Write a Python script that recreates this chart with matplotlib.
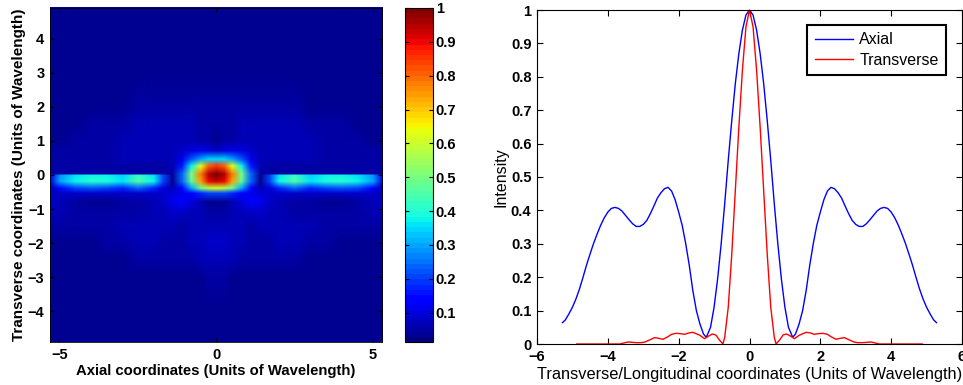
import numpy as np
import matplotlib
matplotlib.use("Agg")
import matplotlib.pyplot as plt
from matplotlib.image import NonUniformImage

plt.rcParams['font.family'] = ['Liberation Sans', 'DejaVu Sans']

# ---------------- heatmap data ----------------
hm_x = [-5.3, -5.0, -4.5, -4.0, -3.5, -3.0, -2.5, -2.0, -1.7, -1.4, -1.1, -0.8, -0.5, -0.25, 0.0,
        0.25, 0.5, 0.8, 1.1, 1.4, 1.7, 2.0, 2.5, 3.0, 3.5, 4.0, 4.5, 5.0, 5.3]
hm_y = [4.9, 3.0, 2.0, 1.5, 1.0, 0.7, 0.45, 0.25, 0.02, -0.02, -0.2, -0.4, -0.55, -0.8,
        -1.1, -1.5, -2.0, -2.5, -3.0, -4.0, -4.9]
hm_rows = [
    [0.03]*29,
    [0.03]*13 + [0.035, 0.035, 0.035] + [0.03]*13,
    [0.03, 0.03, 0.035, 0.035, 0.04, 0.04, 0.045, 0.045, 0.045, 0.045, 0.045, 0.045, 0.045, 0.045, 0.045,
     0.045, 0.045, 0.045, 0.045, 0.045, 0.045, 0.045, 0.045, 0.04, 0.04, 0.035, 0.035, 0.03, 0.03],
    [0.035, 0.035, 0.04, 0.045, 0.05, 0.055, 0.06, 0.06, 0.06, 0.06, 0.06, 0.06, 0.055, 0.05, 0.05,
     0.05, 0.055, 0.06, 0.06, 0.06, 0.06, 0.06, 0.06, 0.055, 0.05, 0.045, 0.04, 0.035, 0.035],
    [0.04, 0.04, 0.045, 0.05, 0.055, 0.06, 0.065, 0.065, 0.065, 0.06, 0.06, 0.06, 0.055, 0.045, 0.04,
     0.045, 0.055, 0.06, 0.06, 0.06, 0.065, 0.065, 0.065, 0.06, 0.055, 0.05, 0.045, 0.04, 0.04],
    [0.045, 0.045, 0.05, 0.05, 0.055, 0.06, 0.065, 0.07, 0.07, 0.07, 0.08, 0.1, 0.11, 0.1, 0.09,
     0.1, 0.11, 0.1, 0.08, 0.07, 0.07, 0.07, 0.065, 0.06, 0.055, 0.05, 0.05, 0.045, 0.045],
    [0.045, 0.05, 0.05, 0.055, 0.055, 0.06, 0.06, 0.065, 0.065, 0.07, 0.12, 0.22, 0.3, 0.34, 0.35,
     0.34, 0.3, 0.22, 0.12, 0.07, 0.065, 0.065, 0.06, 0.06, 0.055, 0.055, 0.05, 0.05, 0.045],
    [0.045, 0.05, 0.05, 0.05, 0.05, 0.05, 0.055, 0.055, 0.055, 0.06, 0.16, 0.38, 0.62, 0.8, 0.85,
     0.8, 0.62, 0.38, 0.16, 0.06, 0.055, 0.055, 0.055, 0.05, 0.05, 0.05, 0.05, 0.05, 0.045],
    [0.045, 0.045, 0.045, 0.045, 0.045, 0.045, 0.045, 0.045, 0.045, 0.05, 0.24, 0.5, 0.78, 0.95, 0.99,
     0.95, 0.78, 0.5, 0.24, 0.05, 0.045, 0.045, 0.045, 0.045, 0.045, 0.045, 0.045, 0.045, 0.045],
    [0.12, 0.28, 0.36, 0.38, 0.37, 0.34, 0.42, 0.36, 0.2, 0.04, 0.24, 0.5, 0.78, 0.95, 1.0,
     0.95, 0.78, 0.5, 0.24, 0.04, 0.2, 0.36, 0.42, 0.34, 0.37, 0.38, 0.36, 0.28, 0.12],
    [0.1, 0.3, 0.38, 0.41, 0.39, 0.36, 0.45, 0.38, 0.2, 0.04, 0.23, 0.47, 0.74, 0.9, 0.93,
     0.9, 0.74, 0.47, 0.23, 0.04, 0.2, 0.38, 0.45, 0.36, 0.39, 0.41, 0.38, 0.3, 0.1],
    [0.06, 0.15, 0.2, 0.22, 0.2, 0.18, 0.23, 0.18, 0.1, 0.06, 0.15, 0.3, 0.48, 0.58, 0.6,
     0.58, 0.48, 0.3, 0.15, 0.06, 0.1, 0.18, 0.23, 0.18, 0.2, 0.22, 0.2, 0.15, 0.06],
    [0.06, 0.08, 0.09, 0.09, 0.08, 0.08, 0.09, 0.08, 0.08, 0.1, 0.12, 0.13, 0.18, 0.2, 0.2,
     0.2, 0.18, 0.13, 0.12, 0.1, 0.08, 0.08, 0.09, 0.08, 0.08, 0.09, 0.09, 0.08, 0.06],
    [0.08, 0.07, 0.05, 0.04, 0.04, 0.05, 0.05, 0.07, 0.09, 0.12, 0.15, 0.1, 0.06, 0.04, 0.035,
     0.04, 0.06, 0.1, 0.15, 0.12, 0.09, 0.07, 0.05, 0.05, 0.04, 0.04, 0.05, 0.07, 0.08],
    [0.06, 0.06, 0.05, 0.045, 0.045, 0.05, 0.055, 0.06, 0.07, 0.08, 0.08, 0.07, 0.06, 0.055, 0.05,
     0.055, 0.06, 0.07, 0.08, 0.08, 0.07, 0.06, 0.055, 0.05, 0.045, 0.045, 0.05, 0.06, 0.06],
    [0.05, 0.05, 0.045, 0.045, 0.05, 0.06, 0.07, 0.07, 0.065, 0.06, 0.055, 0.06, 0.07, 0.07, 0.07,
     0.07, 0.07, 0.06, 0.055, 0.06, 0.065, 0.07, 0.07, 0.06, 0.05, 0.045, 0.045, 0.05, 0.05],
    [0.04, 0.04, 0.04, 0.04, 0.045, 0.05, 0.06, 0.06, 0.055, 0.05, 0.05, 0.06, 0.07, 0.08, 0.08,
     0.08, 0.07, 0.06, 0.05, 0.05, 0.055, 0.06, 0.06, 0.05, 0.045, 0.04, 0.04, 0.04, 0.04],
    [0.035, 0.035, 0.035, 0.035, 0.04, 0.04, 0.045, 0.045, 0.045, 0.045, 0.045, 0.05, 0.06, 0.07, 0.07,
     0.07, 0.06, 0.05, 0.045, 0.045, 0.045, 0.045, 0.045, 0.04, 0.04, 0.035, 0.035, 0.035, 0.035],
    [0.03]*12 + [0.04, 0.045, 0.045, 0.045, 0.04] + [0.03]*12,
    [0.03]*29,
    [0.03]*29,
]

# ---------------- line profile data ----------------
axial_x = [-5.28, -5.2, -5.1, -5.0, -4.9, -4.8, -4.7, -4.6, -4.5, -4.4, -4.3, -4.2, -4.1, -4.0,
           -3.9, -3.8, -3.7, -3.6, -3.5, -3.4, -3.3, -3.2, -3.1, -3.0, -2.9, -2.8, -2.7, -2.6,
           -2.5, -2.4, -2.3, -2.2, -2.1, -2.0, -1.9, -1.8, -1.7, -1.6, -1.5, -1.4, -1.3, -1.22,
           -1.1, -1.0, -0.9, -0.8, -0.7, -0.6, -0.5, -0.4, -0.3, -0.2, -0.1, 0.0,
           0.1, 0.2, 0.3, 0.4, 0.5, 0.6, 0.7, 0.8, 0.9, 1.0, 1.1, 1.22, 1.3, 1.4, 1.5, 1.6,
           1.7, 1.8, 1.9, 2.0, 2.1, 2.2, 2.3, 2.4, 2.5, 2.6, 2.7, 2.8, 2.9, 3.0, 3.1, 3.2,
           3.3, 3.4, 3.5, 3.6, 3.7, 3.8, 3.9, 4.0, 4.1, 4.2, 4.3, 4.4, 4.5, 4.6, 4.7, 4.8,
           4.9, 5.0, 5.1, 5.2, 5.28]
axial_y = [0.064, 0.072, 0.09, 0.11, 0.135, 0.165, 0.2, 0.237, 0.27, 0.302, 0.33, 0.356, 0.378, 0.395,
           0.406, 0.409, 0.406, 0.398, 0.385, 0.372, 0.36, 0.352, 0.352, 0.358, 0.37, 0.39, 0.413, 0.437,
           0.453, 0.465, 0.469, 0.458, 0.432, 0.395, 0.355, 0.30, 0.235, 0.16, 0.10, 0.06, 0.03, 0.02,
           0.05, 0.11, 0.195, 0.30, 0.42, 0.55, 0.67, 0.78, 0.87, 0.94, 0.985, 1.0,
           0.985, 0.94, 0.87, 0.78, 0.67, 0.55, 0.42, 0.30, 0.195, 0.11, 0.05, 0.02, 0.03, 0.06, 0.10, 0.16,
           0.235, 0.30, 0.355, 0.395, 0.432, 0.458, 0.469, 0.465, 0.453, 0.437, 0.413, 0.39, 0.37, 0.358, 0.352, 0.352,
           0.36, 0.372, 0.385, 0.398, 0.406, 0.409, 0.406, 0.395, 0.378, 0.356, 0.33, 0.302, 0.27, 0.237, 0.2, 0.165,
           0.135, 0.11, 0.09, 0.072, 0.064]

trans_x = [-4.88, -3.66, -3.55, -3.43, -3.2, -3.05, -2.95, -2.8, -2.68, -2.56, -2.44, -2.3, -2.2,
           -2.07, -1.95, -1.83, -1.72, -1.6, -1.4, -1.27, -1.15, -1.05, -0.95, -0.85, -0.75, -0.7,
           -0.6, -0.5, -0.4, -0.3, -0.2, -0.1, 0.0, 0.1, 0.2, 0.3, 0.4, 0.5, 0.6, 0.7, 0.75, 0.85,
           0.95, 1.05, 1.15, 1.27, 1.4, 1.6, 1.72, 1.83, 1.95, 2.07, 2.2, 2.3, 2.44, 2.56, 2.68,
           2.8, 2.95, 3.05, 3.2, 3.43, 3.55, 3.66, 4.88]
trans_y = [0.0, 0.0, 0.003, 0.006, 0.004, 0.004, 0.006, 0.013, 0.019, 0.017, 0.014, 0.022, 0.029,
           0.032, 0.031, 0.029, 0.033, 0.035, 0.026, 0.016, 0.024, 0.03, 0.027, 0.012, 0.0, 0.02,
           0.11, 0.27, 0.46, 0.65, 0.82, 0.95, 1.0, 0.95, 0.82, 0.65, 0.46, 0.27, 0.11, 0.02, 0.0, 0.012,
           0.027, 0.03, 0.024, 0.016, 0.026, 0.035, 0.033, 0.029, 0.031, 0.032, 0.029, 0.022, 0.014, 0.017, 0.019,
           0.013, 0.006, 0.004, 0.004, 0.006, 0.003, 0.0, 0.0]

cbar_ticks = [0.1, 0.2, 0.3, 0.4, 0.5, 0.6, 0.7, 0.8, 0.9, 1.0]
cbar_labels = ['0.1', '0.2', '0.3', '0.4', '0.5', '0.6', '0.7', '0.8', '0.9', '1']
line_xticks = [-6, -4, -2, 0, 2, 4, 6]
line_yticks = [0, 0.1, 0.2, 0.3, 0.4, 0.5, 0.6, 0.7, 0.8, 0.9, 1.0]
line_ylabels = ['0', '0.1', '0.2', '0.3', '0.4', '0.5', '0.6', '0.7', '0.8', '0.9', '1']

# ---------------- figure ----------------
W, H = 963, 385
fig = plt.figure(figsize=(W / 100, H / 100), dpi=100)

def rect(x0, y0, x1, y1):
    return [x0 / W, 1 - y1 / H, (x1 - x0) / W, (y1 - y0) / H]

ax1 = fig.add_axes(rect(50, 8, 382, 342))
cax = fig.add_axes(rect(405, 8, 433, 342))
ax2 = fig.add_axes(rect(537, 10, 962, 344))

cmap = plt.get_cmap('jet', 64)
C = np.array(hm_rows)[::-1]
ys = np.array(hm_y)[::-1]
im = NonUniformImage(ax1, interpolation='bilinear', cmap=cmap,
                     extent=(-5.3, 5.3, -4.9, 4.9))
im.set_data(np.array(hm_x), ys, C)
im.set_clim(0.013, 1.0)
ax1.add_image(im)
ax1.set_xlim(-5.3, 5.3)
ax1.set_ylim(-4.9, 4.9)
ax1.set_xticks([-5, 0, 5])
ax1.set_yticks([-4, -3, -2, -1, 0, 1, 2, 3, 4])
ax1.tick_params(direction='in', length=3, top=True, right=True, labelsize=10.5, pad=4)
for lab in ax1.get_xticklabels() + ax1.get_yticklabels():
    lab.set_fontweight('bold')
for sp in ax1.spines.values():
    sp.set_linewidth(0.6)
ax1.set_xlabel('Axial coordinates (Units of Wavelength)', fontsize=10.7, fontweight='bold', labelpad=2)
ax1.set_ylabel('Transverse coordinates (Units of Wavelength)', fontsize=11, fontweight='bold', labelpad=1)

cb = fig.colorbar(im, cax=cax, ticks=cbar_ticks)
cb.ax.set_yticklabels(cbar_labels)
cb.ax.tick_params(direction='in', length=3, left=True, right=True, labelsize=10.5, pad=2)
for lab in cb.ax.get_yticklabels():
    lab.set_fontweight('bold')
cb.outline.set_linewidth(0.8)

ax2.plot(axial_x, axial_y, color='#0000ff', lw=1.0, label='Axial')
ax2.plot(trans_x, trans_y, color='#ff0000', lw=1.0, label='Transverse', clip_on=False)
ax2.set_xlim(-6, 6)
ax2.set_ylim(0, 1)
ax2.set_xticks(line_xticks)
ax2.set_yticks(line_yticks)
ax2.set_yticklabels(line_ylabels)
ax2.tick_params(direction='in', length=4, top=True, right=True, labelsize=10.5, pad=4)
for lab in ax2.get_xticklabels() + ax2.get_yticklabels():
    lab.set_fontweight('bold')
ax2.set_xlabel('Transverse/Longitudinal coordinates (Units of Wavelength)', fontsize=11.8, labelpad=2.5)
ax2.set_ylabel('Intensity', fontsize=11.5, labelpad=2)
leg = ax2.legend(loc='upper right', bbox_to_anchor=(0.962, 0.955), fancybox=False,
                 edgecolor='black', framealpha=1, fontsize=11.5, handlelength=2.4,
                 borderpad=0.45, labelspacing=0.35, handletextpad=0.4, borderaxespad=0.0)
leg.get_frame().set_linewidth(1.5)

fig.savefig('out.png', dpi=100)
